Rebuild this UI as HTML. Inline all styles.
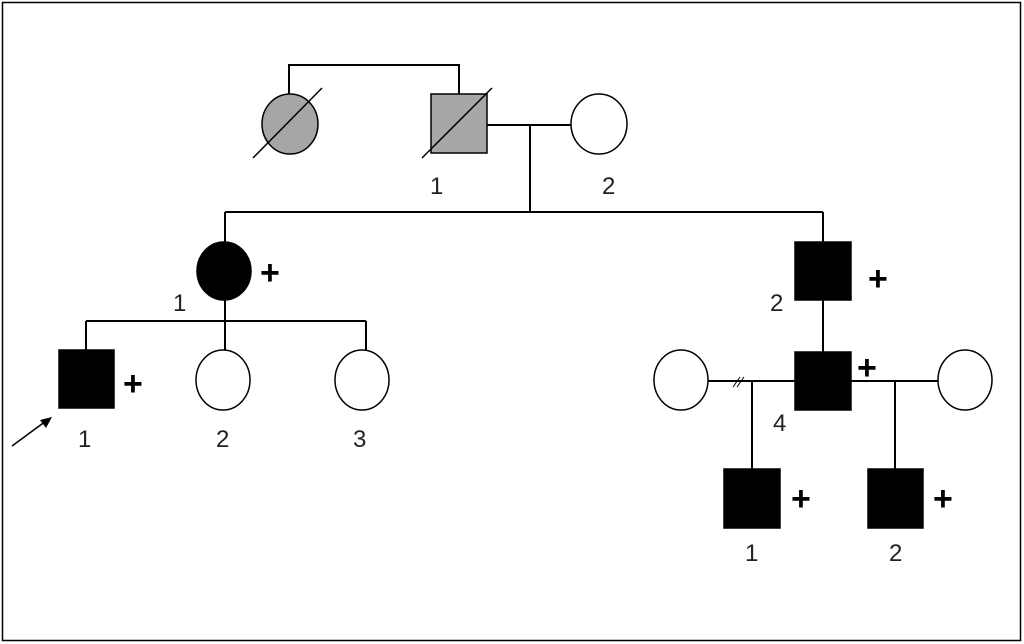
<!DOCTYPE html><html><head><style>body{margin:0;background:#fff}svg{display:block}text{font-family:"Liberation Sans",sans-serif;font-size:24px;fill:#222}.p{font-size:34px;font-weight:bold;fill:#000}</style></head><body>
<svg width="1024" height="644" viewBox="0 0 1024 644" xmlns="http://www.w3.org/2000/svg">
<rect x="2.5" y="2.5" width="1018" height="638" fill="#fff" stroke="#000" stroke-width="1.5"/>
<g stroke="#000" stroke-width="2" fill="none">
<path d="M289 94V65H459V94"/>
<path d="M487 125H572M530 125V212M225 212H823M225 212V242M823 212V242M823 300V352M225 300V321M86 321H366M86 321V350M225 321V350M366 321V350"/>
<path d="M708 381H795M752 381V469M851 381H938M895 381V469"/>
</g>
<g stroke="#000" stroke-width="1.5">
<ellipse cx="290" cy="124" rx="28" ry="30" fill="#a6a6a6"/>
<rect x="431" y="94" width="56" height="59" fill="#a6a6a6"/>
<ellipse cx="599" cy="124" rx="28" ry="30" fill="#fff"/>
<ellipse cx="224" cy="271" rx="27" ry="29" fill="#000"/>
<rect x="795" y="242" width="56" height="58" fill="#000"/>
<rect x="795" y="352" width="56" height="58" fill="#000"/>
<rect x="59" y="350" width="55" height="58" fill="#000"/>
<ellipse cx="223" cy="380" rx="27" ry="30" fill="#fff"/>
<ellipse cx="362" cy="380" rx="27" ry="30" fill="#fff"/>
<ellipse cx="681" cy="380" rx="27" ry="30" fill="#fff"/>
<ellipse cx="965" cy="380" rx="27" ry="30" fill="#fff"/>
<rect x="724" y="469" width="56" height="59" fill="#000"/>
<rect x="868" y="469" width="55" height="59" fill="#000"/>
<line x1="253" y1="158" x2="322" y2="88"/>
<line x1="422" y1="158" x2="492" y2="88"/>
<line x1="733" y1="387" x2="740" y2="377" stroke-width="1"/>
<line x1="737" y1="387" x2="744" y2="377" stroke-width="1"/>
<line x1="12" y1="446" x2="46" y2="421"/>
</g>
<polygon points="52,417 40,420 46,428" fill="#000"/>
<text x="430" y="194">1</text><text x="602" y="194">2</text>
<text x="173" y="311">1</text><text x="770" y="311">2</text>
<text x="78" y="447">1</text><text x="216" y="447">2</text><text x="353" y="447">3</text>
<text x="773" y="431">4</text><text x="745" y="561">1</text><text x="889" y="561">2</text>
<text class="p" x="260" y="284">+</text><text class="p" x="868" y="290">+</text>
<text class="p" x="123" y="395">+</text><text class="p" x="857" y="379">+</text>
<text class="p" x="791" y="510">+</text><text class="p" x="933" y="510">+</text>
</svg></body></html>
